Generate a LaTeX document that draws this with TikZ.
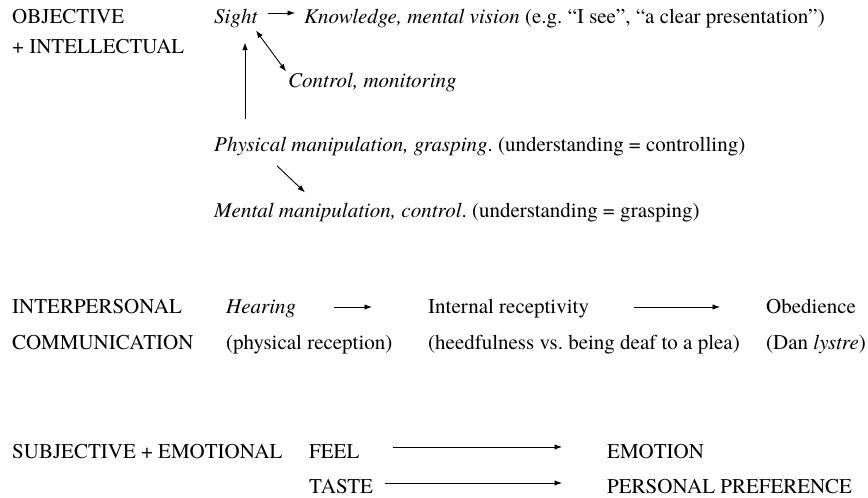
\documentclass[tikz,border=0pt]{standalone}
\usepackage{fontspec}
\setmainfont{TeX Gyre Termes}
\usetikzlibrary{arrows.meta}
\frenchspacing
\begin{document}
\begin{tikzpicture}[x=1pt,y=-1pt,
  txt/.style={anchor=base west,inner sep=0pt,font=\fontsize{21}{25}\selectfont},
  arr/.style={line width=0.9pt,-{Latex[length=7.5pt,width=5.5pt]}},
  darr/.style={line width=0.9pt,{Latex[length=7.5pt,width=5.5pt]}-{Latex[length=7.5pt,width=5.5pt]}}]
\useasboundingbox (0,0) rectangle (868,498);
% top section
\node[txt] (obj) at (12,23) {OBJECTIVE};
\node[txt] (intel) at (12,53) {+ INTELLECTUAL};
\node[txt] (sight) at (214,23) {\textit{Sight}};
\node[txt] (know) at (304,23) {\textit{Knowledge, mental vision} (e.g. “I see”, “a clear presentation”)};
\node[txt] (ctrl) at (288,87) {\textit{Control, monitoring}};
\node[txt] (phys) at (214,151) {\textit{Physical manipulation, grasping}. (understanding = controlling)};
\node[txt] (ment) at (214,217) {\textit{Mental manipulation, control}. (understanding = grasping)};
\draw[arr] ([xshift=10pt,yshift=10pt]sight.base east) -- ([xshift=-9pt,yshift=10pt]know.base west);
\draw[darr] ([xshift=-2pt,yshift=-3pt]sight.south east) -- ([xshift=-2pt,yshift=1pt]ctrl.north west);
\draw[arr] ([xshift=31pt,yshift=17pt]phys.north west) -- ([xshift=31pt,yshift=-15pt]sight.south west);
\draw[arr] ([xshift=63pt,yshift=-10pt]phys.south west) -- ([xshift=91pt,yshift=10pt]ment.north west);
% middle section
\node[txt] (ip) at (12,313) {INTERPERSONAL};
\node[txt] (comm) at (12,349) {COMMUNICATION};
\node[txt] (hear) at (226,313) {\textit{Hearing}};
\node[txt] (phrec) at (226,349) {(physical reception)};
\node[txt] (intrec) at (428,313) {Internal receptivity};
\node[txt] (heed) at (428,349) {(heedfulness vs. being deaf to a plea)};
\node[txt] (obed) at (766,313) {Obedience};
\node[txt] (dan) at (766,349) {(Dan \textit{lystre})};
\draw[arr] ([xshift=38pt,yshift=6pt]hear.base east) -- ([xshift=-56pt,yshift=6pt]intrec.base west);
\draw[arr] ([xshift=45pt,yshift=6pt]intrec.base east) -- ([xshift=-46pt,yshift=6pt]obed.base west);
% bottom section
\node[txt] (subj) at (12,458) {SUBJECTIVE + EMOTIONAL};
\node[txt] (feel) at (309,458) {FEEL};
\node[txt] (emo) at (607,458) {EMOTION};
\node[txt] (taste) at (309,493) {TASTE};
\node[txt] (pref) at (607,493) {PERSONAL PREFERENCE};
\draw[arr] ([xshift=33pt,yshift=11pt]feel.base east) -- ([xshift=-45pt,yshift=11pt]emo.base west);
\draw[arr] ([xshift=12pt,yshift=10pt]taste.base east) -- ([xshift=-45pt,yshift=10pt]pref.base west);
\end{tikzpicture}
\end{document}
